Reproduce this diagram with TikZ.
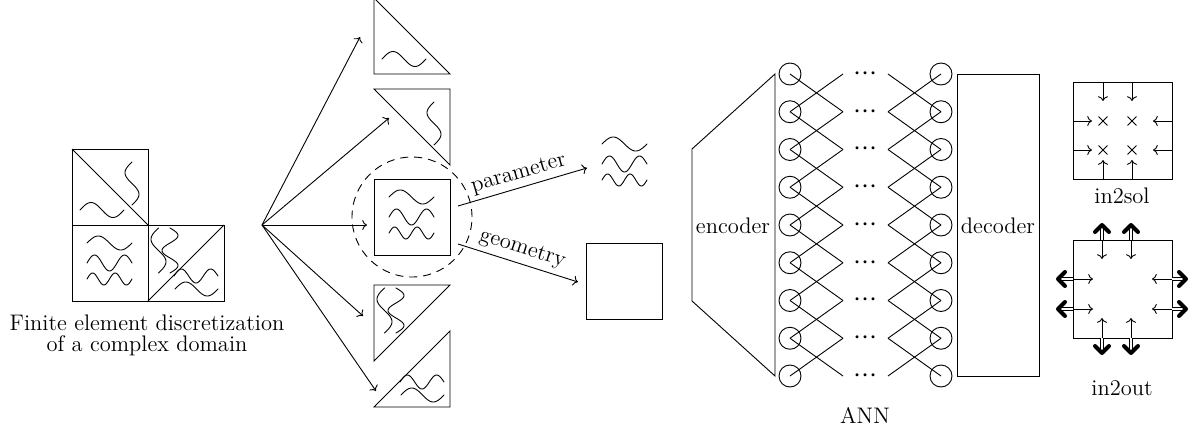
\documentclass[tikz,border=0pt]{standalone}
\usetikzlibrary{arrows.meta,shapes.misc}
\tikzset{
  ln/.style={line width=0.45pt},
  wave/.style={line width=0.45pt, line cap=round},
  arr/.style={line width=0.45pt,-{To[length=2.4pt,width=5pt]}},
  neuron/.style={circle,draw,line width=0.45pt,minimum size=11pt,inner sep=0pt},
  lbl/.style={font=\fontsize{11.25}{12}\selectfont, inner sep=1pt},
  dotslbl/.style={font=\fontsize{15}{15}\selectfont, inner sep=0pt},
  xmark/.style={draw,cross out,line width=0.45pt,minimum size=4pt,inner sep=0pt},
  dbl/.style={double,line width=0.45pt,double distance=1pt},
  chev/.style={line width=2pt,line cap=round,line join=round},
}
\newcommand{\hwv}[5]{\draw[wave] plot[domain=0:#3,samples=50,smooth] ({#1+\x},{#2-(#5)*sin(\x/#3*360*#4)});}
\newcommand{\vwv}[5]{\draw[wave] plot[domain=0:#3,samples=50,smooth] ({#1-(#5)*sin(\x/#3*360*#4)},{#2+\x});}
\newcommand{\threewaves}[2]{%
 \hwv{#1+15}{#2+18}{45}{1}{7}
 \hwv{#1+15}{#2+38}{45}{1.5}{8}
 \hwv{#1+15}{#2+54}{45}{2}{6}}
\newcommand{\topLL}[2]{\hwv{#1+8}{#2+61}{44}{1}{7.5}}
\newcommand{\topUR}[2]{\vwv{#1+60}{#2+13}{43}{1}{7}}
\newcommand{\brUL}[2]{\vwv{#1+10.5}{#2+3}{45}{1}{7.5}\vwv{#1+22}{#2+3}{45}{1.5}{-8}}
\newcommand{\brLR}[2]{\hwv{#1+26}{#2+51}{44}{1.5}{7}\hwv{#1+27}{#2+64}{43}{1}{7}}
\begin{document}
\begin{tikzpicture}[x=0.5pt,y=-0.5pt]
\useasboundingbox (0,0) rectangle (1191,429);
% ---------- mesh ----------
\draw[ln] (72,149) rectangle (148,225);
\draw[ln] (72,149) -- (148,225);
\draw[ln] (72,225) rectangle (148,301);
\draw[ln] (148,225) rectangle (224,301);
\draw[ln] (148,301) -- (224,225);
\topLL{72}{149}
\topUR{72}{149}
\threewaves{72}{225}
\brUL{148}{225}
\brLR{148}{225}
\node[lbl,align=center,font=\fontsize{11.25}{10.5}\selectfont] (mlabel) at (147,335) {Finite element discretization\\of a complex domain};
% ---------- exploded elements ----------
\draw[ln] (374,-2) -- (374,74) -- (450,74) -- cycle;
\topLL{374}{-2}
\draw[ln] (374,89) -- (450,89) -- (450,165) -- cycle;
\topUR{374}{89}
\draw[ln] (374,179) rectangle (450,255);
\threewaves{374}{179}
\draw[ln] (374,285) -- (450,285) -- (374,361) -- cycle;
\brUL{374}{285}
\draw[ln] (450,331) -- (450,407) -- (374,407) -- cycle;
\brLR{374}{331}
\node[circle,draw,ln,dash pattern=on 4pt off 3pt,minimum size=60pt,inner sep=0pt] (focus) at (412,217) {};
% ---------- fan ----------
\coordinate (F) at (262,225);
\coordinate (T1) at (360,37);
\coordinate (T2) at (389,118);
\coordinate (T3) at (367,225);
\coordinate (T4) at (363,316);
\coordinate (T5) at (376,391);
\foreach \t in {T1,T2,T3,T4,T5} \draw[arr] (F) -- (\t);
% ---------- parameter / geometry ----------
\coordinate (P0) at (458,206);
\coordinate (P1) at (587,168);
\coordinate (G0) at (458,244);
\coordinate (G1) at (578,282);
\draw[arr] (P0) -- node[lbl,above,sloped,inner sep=2pt] (plab) {parameter} (P1);
\draw[arr] (G0) -- node[lbl,above,sloped,inner sep=2.5pt] (glab) {geometry} (G1);
\threewaves{587}{126}
\draw[ln] (586,243) rectangle (662,319);
% ---------- ANN ----------
\draw[ln] (692,149) -- (775,74) -- (775,376) -- (692,301) -- cycle;
\node[lbl] (enc) at (733,226) {encoder};
\foreach \i in {0,...,8}{
  \pgfmathsetmacro\yy{74+37.75*\i}
  \node[neuron] (L\i) at (790,\yy) {};
  \node[neuron] (R\i) at (941,\yy) {};
  \coordinate (A\i) at (843,\yy);
  \coordinate (B\i) at (888,\yy);
  \node[dotslbl] (D\i) at (865.5,\yy) {${\cdot}{\cdot}{\cdot}$};
}
\foreach \i [evaluate=\i as \j using int(\i+1)] in {0,...,7}{
  \draw[ln] (L\i.center) -- (A\j);
  \draw[ln] (L\j.center) -- (A\i);
  \draw[ln] (B\j) -- (R\i.center);
  \draw[ln] (B\i) -- (R\j.center);
}
\draw[ln] (957,74) rectangle (1039,376);
\node[lbl] (dec) at (998,226) {decoder};
\node[lbl] (ann) at (865,415) {ANN};
% ---------- in2sol ----------
\draw[ln] (1073,82) rectangle (1172,179);
\foreach \xx in {1103,1132}{
  \draw[arr] (\xx,82) -- (\xx,101);
  \draw[arr] (\xx,179) -- (\xx,160);
}
\foreach \yy in {121,150}{
  \draw[arr] (1073,\yy) -- (1092,\yy);
  \draw[arr] (1172,\yy) -- (1153,\yy);
}
\node[xmark] (x1) at (1103,121) {};
\node[xmark] (x2) at (1132,121) {};
\node[xmark] (x3) at (1103,150) {};
\node[xmark] (x4) at (1132,150) {};
\node[lbl] (sol) at (1122,196) {in2sol};
% ---------- in2out ----------
\draw[ln] (1073,240) rectangle (1172,338);
\foreach \xx in {1102,1131}{
  \draw[arr] (\xx,240) -- (\xx,259);
  \draw[arr] (\xx,338) -- (\xx,318);
  \draw[dbl] (\xx,240) -- (\xx,227);
  \draw[chev] (\xx-7,232) -- (\xx,225) -- (\xx+7,232);
  \draw[dbl] (\xx,338) -- (\xx,351);
  \draw[chev] (\xx-7,346) -- (\xx,353) -- (\xx+7,346);
}
\foreach \yy in {279,309}{
  \draw[arr] (1073,\yy) -- (1093,\yy);
  \draw[arr] (1172,\yy) -- (1152,\yy);
  \draw[dbl] (1073,\yy) -- (1060,\yy);
  \draw[chev] (1065,\yy-7) -- (1058,\yy) -- (1065,\yy+7);
  \draw[dbl] (1172,\yy) -- (1184,\yy);
  \draw[chev] (1179,\yy-7) -- (1186,\yy) -- (1179,\yy+7);
}
\node[lbl] (out) at (1122,388) {in2out};
\end{tikzpicture}
\end{document}
